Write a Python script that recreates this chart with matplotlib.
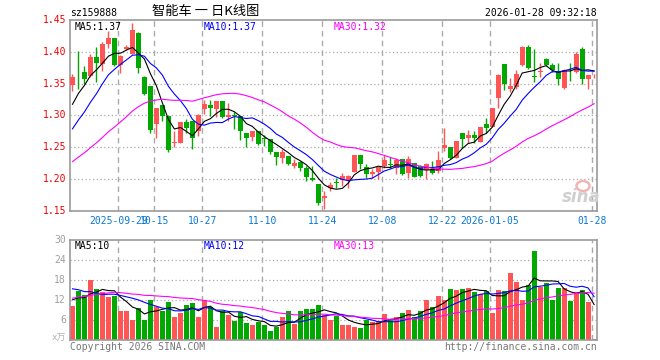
import matplotlib
matplotlib.use("Agg")
import matplotlib.pyplot as plt
import numpy as np
import pandas as pd
from matplotlib.transforms import blended_transform_factory
from matplotlib.patches import Ellipse

W, H = 660, 360

# ---------------- data ----------------
open_ = [1.348, 1.367, 1.369, 1.362, 1.392, 1.381, 1.412, 1.421, 1.380, 1.404,
         1.397, 1.430, 1.361, 1.346, 1.286, 1.316, 1.299, 1.257, 1.257, 1.290,
         1.291, 1.276, 1.310, 1.317, 1.310, 1.322, 1.297, 1.300, 1.299, 1.272,
         1.266, 1.276, 1.2642, 1.263, 1.243, 1.234, 1.2365, 1.221, 1.2276, 1.217,
         1.2024, 1.192, 1.170, 1.1856, 1.1948, 1.198, 1.1987, 1.2118, 1.238, 1.2192,
         1.2076, 1.2118, 1.2208, 1.2228, 1.2181, 1.2312, 1.2103, 1.226, 1.2208, 1.2139,
         1.2155, 1.2129, 1.2496, 1.2506, 1.2339, 1.2732, 1.2643, 1.2695, 1.259, 1.2873,
         1.2821, 1.3282, 1.3806, 1.3413, 1.345, 1.3796, 1.4079, 1.362, 1.3685, 1.3885,
         1.3796, 1.3701, 1.3439, 1.3705, 1.3691, 1.4042, 1.3581, 1.3614]
high = [1.365, 1.402, 1.378, 1.397, 1.407, 1.415, 1.432, 1.422, 1.395, 1.410,
        1.446, 1.431, 1.362, 1.347, 1.312, 1.316, 1.299, 1.276, 1.290, 1.294,
        1.291, 1.302, 1.324, 1.324, 1.322, 1.322, 1.319, 1.305, 1.299, 1.272,
        1.276, 1.276, 1.2695, 1.263, 1.243, 1.247, 1.2365, 1.231, 1.2286, 1.221,
        1.2208, 1.192, 1.181, 1.195, 1.2024, 1.210, 1.206, 1.238, 1.238, 1.2234,
        1.2155, 1.2192, 1.238, 1.2349, 1.2339, 1.2312, 1.2365, 1.226, 1.222, 1.226,
        1.2286, 1.2443, 1.280, 1.2506, 1.2601, 1.2732, 1.2768, 1.2758, 1.2821, 1.2957,
        1.3114, 1.3649, 1.3806, 1.3596, 1.3712, 1.4094, 1.4105, 1.404, 1.383, 1.391,
        1.3832, 1.3832, 1.3727, 1.3832, 1.399, 1.4079, 1.3633, 1.3649]
low = [1.339, 1.342, 1.349, 1.360, 1.352, 1.370, 1.406, 1.377, 1.367, 1.403,
       1.396, 1.367, 1.332, 1.272, 1.265, 1.291, 1.243, 1.250, 1.257, 1.273,
       1.247, 1.268, 1.302, 1.299, 1.297, 1.296, 1.292, 1.279, 1.261, 1.250,
       1.260, 1.253, 1.2522, 1.239, 1.223, 1.226, 1.222, 1.218, 1.213, 1.197,
       1.197, 1.159, 1.153, 1.182, 1.1867, 1.189, 1.1867, 1.2118, 1.2155, 1.2024,
       1.2024, 1.1998, 1.2181, 1.2171, 1.2076, 1.206, 1.2024, 1.2029, 1.204, 1.1998,
       1.2087, 1.2103, 1.2443, 1.2312, 1.2339, 1.2496, 1.2574, 1.2574, 1.259, 1.2732,
       1.2821, 1.3114, 1.3397, 1.3376, 1.3413, 1.3779, 1.3727, 1.352, 1.360, 1.378,
       1.369, 1.348, 1.3413, 1.3544, 1.3675, 1.3502, 1.3413, 1.359]
close = [1.361, 1.366, 1.358, 1.392, 1.382, 1.413, 1.421, 1.380, 1.393, 1.407,
         1.434, 1.375, 1.334, 1.278, 1.312, 1.299, 1.246, 1.259, 1.290, 1.281,
         1.265, 1.300, 1.318, 1.311, 1.322, 1.297, 1.301, 1.2985, 1.275, 1.265,
         1.275, 1.256, 1.2637, 1.243, 1.235, 1.243, 1.2234, 1.226, 1.217, 1.2035,
         1.1982, 1.163, 1.1736, 1.1915, 1.1944, 1.205, 1.205, 1.238, 1.2244, 1.2087,
         1.2118, 1.2192, 1.2297, 1.2223, 1.2297, 1.2076, 1.2312, 1.2035, 1.205, 1.2244,
         1.2103, 1.2297, 1.2538, 1.2339, 1.2601, 1.2627, 1.2695, 1.2643, 1.2821, 1.280,
         1.3114, 1.3638, 1.3502, 1.3465, 1.3649, 1.4079, 1.3743, 1.360, 1.3695, 1.3796,
         1.3712, 1.358, 1.3712, 1.3698, 1.3963, 1.3581, 1.3633, 1.3622]
volume = [10.3, 14.8, 13.4, 18.0, 15.4, 14.3, 13.0, 13.1, 8.6, 8.6,
          6.1, 9.7, 6.1, 11.9, 9.8, 8.6, 11.5, 6.8, 8.2, 10.6,
          11.2, 7.0, 11.9, 10.0, 3.8, 8.8, 7.4, 5.6, 8.3, 5.0,
          4.6, 5.3, 4.4, 2.6, 3.9, 6.8, 8.6, 4.7, 8.6, 9.2,
          9.2, 10.6, 7.6, 6.0, 7.3, 4.6, 4.6, 4.0, 3.7, 5.9,
          5.5, 5.6, 7.9, 5.9, 7.0, 8.2, 9.1, 6.9, 8.8, 11.9,
          10.0, 13.3, 11.9, 15.4, 15.1, 15.4, 15.6, 14.5, 13.9, 14.6,
          8.2, 15.0, 14.7, 20.1, 17.4, 12.1, 16.6, 26.7, 16.0, 17.2,
          12.1, 15.7, 15.7, 11.8, 14.5, 15.0, 11.5, 0.4]
# sessions before the visible window (implied by the moving-average lines)
prior_close = [1.150, 1.152, 1.155, 1.153, 1.156, 1.158, 1.155, 1.157, 1.159,
               1.165, 1.168, 1.172, 1.175,
               1.262, 1.268, 1.275, 1.280, 1.285, 1.292, 1.298,
               1.225, 1.232, 1.240, 1.248, 1.257,
               1.280, 1.295, 1.315, 1.337]
prior_volume = [6.5, 7.2, 6.8, 7.5, 7.0, 6.9, 7.1,
                12.5, 14.0, 13.2, 12.8, 14.5, 13.0, 13.9, 12.6, 13.7, 14.2, 13.1, 13.3, 13.5,
                17.5, 19.0, 18.2, 20.1, 18.4,
                11.8, 13.1, 12.4, 12.7]

date_tick_index = [8, 14, 22, 32, 42, 52, 62, 70, 87]
date_tick_labels = ["2025-09-29", "10-15", "10-27", "11-10", "11-24",
                    "12-08", "12-22", "2026-01-05", "01-28"]
price_ticks = [1.15, 1.20, 1.25, 1.30, 1.35, 1.40, 1.45]
price_tick_labels = ["1.15", "1.20", "1.25", "1.30", "1.35", "1.40", "1.45"]
vol_ticks = [6, 12, 18, 24, 30]
vol_tick_labels = ["6", "12", "18", "24", "30"]

symbol = "sz159888"
title = "智能车 一 日K线图"
timestamp = "2026-01-28 09:32:18"
price_legend = ["MA5:1.37", "MA10:1.37", "MA30:1.32"]
vol_legend = ["MA5:10", "MA10:12", "MA30:13"]

# ---------------- styling ----------------
RED = "#ff5555"
GREEN = "#00a800"
GRID = "#aaaaaa"
FRAME = "#9a9a9a"
MA_COLORS = ["#000000", "#0000ff", "#ff00ff"]
MONO = "DejaVu Sans Mono"
FS = 7

n = len(close)
x = np.arange(n)
o = np.array(open_); c = np.array(close); hi = np.array(high); lo = np.array(low)
v = np.array(volume)
up = c >= o
colors = np.where(up, RED, GREEN)


def ma(prior, series, k):
    s = pd.Series(list(prior) + list(series))
    return s.rolling(k).mean().to_numpy()[len(prior):]


fig = plt.figure(figsize=(W / 100, H / 100), dpi=100)
fig.patch.set_facecolor("white")

# main price axes: x 70..597 px, y 20..211 px
ax = fig.add_axes([70 / W, 1 - 211 / H, 527 / W, 191 / H])
axv = fig.add_axes([70 / W, 1 - 340 / H, 527 / W, 100 / H])

xl = (-2.5 / 6, 87 + 2.9 / 6)
for a in (ax, axv):
    a.set_xlim(*xl)
    a.set_xticks([])
    a.set_yticks([])
    for sp in a.spines.values():
        sp.set_color(FRAME)
        sp.set_linewidth(1.2)
    a.set_facecolor("white")
ax.set_ylim(1.15, 1.45)
axv.set_ylim(0, 30)

# grid
for idx in date_tick_index:
    for a in (ax, axv):
        a.axvline(idx - 0.35, color=GRID, lw=1, ls=(0, (4, 3)), zorder=0)
for p in price_ticks[1:-1]:
    ax.axhline(p, color=GRID, lw=0.9, ls=(0, (1, 2)), zorder=0)
for t in vol_ticks[:-1]:
    axv.axhline(t, color=GRID, lw=0.9, ls=(0, (1, 2)), zorder=0)

# candles
ax.vlines(x, lo, hi, colors=colors, lw=1, zorder=2)
body_bottom = np.minimum(o, c)
body_h = np.maximum(np.abs(c - o), 0.0008)
ax.bar(x, body_h, bottom=body_bottom, width=5 / 6, color=colors, lw=0, zorder=3)

# volume bars
axv.bar(x, v, width=5 / 6, color=colors, lw=0, zorder=2)

# moving averages
for k, col in zip((5, 10, 30), MA_COLORS):
    ax.plot(x, ma(prior_close, close, k), color=col, lw=0.8, zorder=4)
    axv.plot(x, ma(prior_volume, volume, k), color=col, lw=0.8, zorder=4)

# y tick labels
bt = blended_transform_factory(ax.transAxes, ax.transData)
for p, lab in zip(price_ticks, price_tick_labels):
    ax.text(-4 / 527, p, lab, transform=bt, ha="right", va="center",
            color="#ee0000", fontsize=FS, family=MONO)
btv = blended_transform_factory(axv.transAxes, axv.transData)
for t, lab in zip(vol_ticks, vol_tick_labels):
    axv.text(-4 / 527, t, lab, transform=btv, ha="right", va="center",
             color="#a0a0a0", fontsize=FS, family=MONO)
axv.text(-4 / 527, 0.5, "x万", transform=btv, ha="right", va="center",
         color="#b0b0b0", fontsize=FS - 0.5, family=[MONO, "Noto Sans CJK SC"])

# date labels
bx = blended_transform_factory(ax.transData, ax.transAxes)
for idx, lab in zip(date_tick_index, date_tick_labels):
    ax.text(idx - 0.35, -9.5 / 191, lab, transform=bx, ha="center", va="center",
            color="#0a78d2", fontsize=FS, family=MONO)

# header
fig.text(70 / W, 1 - 13 / H, symbol, ha="left", va="center", fontsize=FS,
         family=MONO, color="black")
fig.text(206 / W, 1 - 12 / H, title, ha="center", va="center", fontsize=9.5,
         family=["Noto Sans CJK SC", "DejaVu Sans"], color="black")
fig.text(597 / W, 1 - 13 / H, timestamp, ha="right", va="center", fontsize=FS,
         family=MONO, color="black")

# legends
for xp, lab, col in zip((75, 204, 334), price_legend, MA_COLORS):
    fig.text(xp / W, 1 - 26.5 / H, lab, ha="left", va="center", fontsize=FS,
             family=MONO, color=col)
for xp, lab, col in zip((75, 204, 334), vol_legend, MA_COLORS):
    fig.text(xp / W, 1 - 246 / H, lab, ha="left", va="center", fontsize=FS,
             family=MONO, color=col)

# footer
fig.text(70 / W, 1 - 347 / H, "Copyright 2026 SINA.COM", ha="left", va="center",
         fontsize=FS, family=MONO, color="#777777")
fig.text(597 / W, 1 - 347 / H, "http://finance.sina.com.cn", ha="right", va="center",
         fontsize=FS, family=MONO, color="#777777")

# sina watermark
fig.text(581 / W, 1 - 197 / H, "sina", ha="center", va="center", fontsize=12,
         style="italic", weight="bold", family="DejaVu Sans", color="#cfcfcf")
fig.patches.append(Ellipse((583 / W, 1 - 186 / H), 13 / W, 10 / H, transform=fig.transFigure,
                           fill=False, edgecolor="#f2b4b4", lw=1.8))

fig.savefig("out.png", dpi=100, facecolor="white")
